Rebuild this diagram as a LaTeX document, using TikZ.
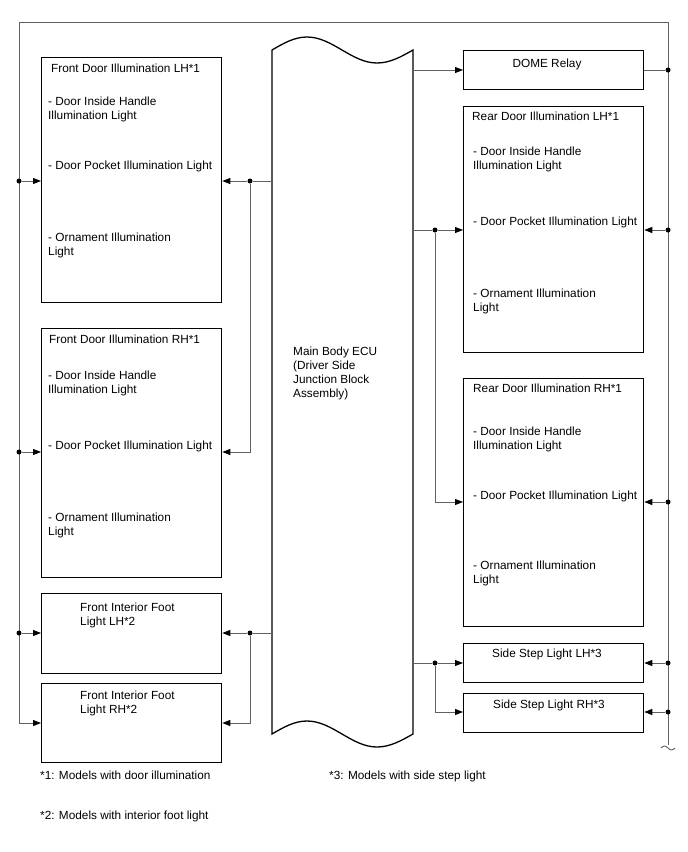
\documentclass[tikz,border=0pt]{standalone}
\usepackage{fontspec}
\setmainfont{Liberation Sans}
\usetikzlibrary{arrows.meta}
\begin{document}
\begin{tikzpicture}[x=1pt,y=-1pt,
  box/.style={draw=black, line width=1.3pt, inner sep=0, anchor=north west},
  conn/.style={draw=black!62, line width=0.9pt},
  arr/.style={conn, -{Triangle[length=8pt,width=6pt,color=black]}},
  dot/.style={circle, fill=black, inner sep=0, minimum size=5pt},
  txt/.style={anchor=base west, inner sep=0, align=left, font=\fontsize{11.8}{14}\selectfont},
  ctxt/.style={anchor=base, inner sep=0, font=\fontsize{11.8}{14}\selectfont}]
\path[use as bounding box, fill=white] (0,0) rectangle (688,852);

% boxes
\node[box, minimum width=180pt, minimum height=245pt] (fdlh) at (41,57) {};
\node[box, minimum width=180pt, minimum height=249pt] (fdrh) at (41,328) {};
\node[box, minimum width=180pt, minimum height=80pt] (fiflh) at (41,593) {};
\node[box, minimum width=180pt, minimum height=79pt] (fifrh) at (41,683) {};
\node[box, minimum width=180pt, minimum height=39pt] (dome) at (463,50) {};
\node[box, minimum width=180pt, minimum height=246pt] (rdlh) at (463,106) {};
\node[box, minimum width=180pt, minimum height=248pt] (rdrh) at (463,378) {};
\node[box, minimum width=180pt, minimum height=39pt] (sslh) at (463,643) {};
\node[box, minimum width=180pt, minimum height=39pt] (ssrh) at (463,693) {};

% ECU shape
\draw[line width=1.3pt] (272,50) sin (307,37) cos (342,50) sin (377,63) cos (413,50)
  -- (413,734) sin (377,747) cos (342,734) sin (307,721) cos (272,734) -- cycle;
\node[txt] (ecu) at (293,397.3) {Main Body ECU\\(Driver Side\\Junction Block\\Assembly)};

% texts (base = last line)
\node[txt] (t1) at (51,72.5) {Front Door Illumination LH*1};
\node[txt] (t2) at (48,119) {- Door Inside Handle\\Illumination Light};
\node[txt] (t3) at (48,169.5) {- Door Pocket Illumination Light};
\node[txt] (t4) at (48,255.5) {- Ornament Illumination\\Light};

\node[txt] (t5) at (49,343.5) {Front Door Illumination RH*1};
\node[txt] (t6) at (48,393.5) {- Door Inside Handle\\Illumination Light};
\node[txt] (t7) at (48,449.5) {- Door Pocket Illumination Light};
\node[txt] (t8) at (48,535.5) {- Ornament Illumination\\Light};

\node[txt] (t9) at (80,625.5) {Front Interior Foot\\Light LH*2};
\node[txt] (t10) at (80,713.5) {Front Interior Foot\\Light RH*2};

\node[ctxt] (t11) at (547,67.5) {DOME Relay};

\node[txt] (t12) at (472,120.5) {Rear Door Illumination LH*1};
\node[txt] (t13) at (473,169.5) {- Door Inside Handle\\Illumination Light};
\node[txt] (t14) at (473,225.5) {- Door Pocket Illumination Light};
\node[txt] (t15) at (473,311.5) {- Ornament Illumination\\Light};

\node[txt] (t16) at (473,392.5) {Rear Door Illumination RH*1};
\node[txt] (t17) at (473,449.5) {- Door Inside Handle\\Illumination Light};
\node[txt] (t18) at (473,499.5) {- Door Pocket Illumination Light};
\node[txt] (t19) at (473,583.5) {- Ornament Illumination\\Light};

\node[ctxt] (t20) at (547,657.5) {Side Step Light LH*3};
\node[ctxt] (t21) at (549,708.5) {Side Step Light RH*3};

\node[txt] (f1) at (40,779.5) {*1: Models with door illumination};
\node[txt] (f3) at (329,779.5) {*3: Models with side step light};
\node[txt] (f2) at (40,819.5) {*2: Models with interior foot light};

% outer bus
\coordinate (tl) at (19,22);
\coordinate (tr) at (668,22);
\coordinate (lb) at (19,723);
\coordinate (rb) at (668,745);
\draw[conn] (lb) -- (tl) -- (tr) -- (rb);
\draw[conn] (661,748) sin (664.5,746) cos (668,748) sin (671.5,750) cos (675,748);

% left bus
\node[dot] (l1) at (19,181) {};
\node[dot] (l2) at (19,452) {};
\node[dot] (l3) at (19,633) {};
\draw[arr] (l1) -- (fdlh.west |- l1);
\draw[arr] (l2) -- (fdrh.west |- l2);
\draw[arr] (l3) -- (fiflh.west |- l3);
\draw[arr] (lb) -- (fifrh.west |- lb);

% ECU left outputs
\coordinate (e1) at (272,181);
\node[dot] (m1) at (250,181) {};
\draw[conn] (e1) -- (m1);
\draw[arr] (m1) -- (fdlh.east |- m1);
\draw[arr] (m1) |- (fdrh.east |- 0,452);
\coordinate (e4) at (272,633);
\node[dot] (m2) at (250,633) {};
\draw[conn] (e4) -- (m2);
\draw[arr] (m2) -- (fiflh.east |- m2);
\draw[arr] (m2) |- (fifrh.east |- 0,723);

% ECU right outputs
\coordinate (e0) at (413,70);
\draw[arr] (e0) -- (dome.west |- e0);
\node[dot] (r0) at (668,70) {};
\draw[conn] (dome.east |- r0) -- (r0);

\coordinate (e2) at (413,230);
\node[dot] (n2) at (435,230) {};
\draw[conn] (e2) -- (n2);
\draw[arr] (n2) -- (rdlh.west |- n2);
\draw[arr] (n2) |- (rdrh.west |- 0,502);

\coordinate (e3) at (413,663);
\node[dot] (n3) at (435,663) {};
\draw[conn] (e3) -- (n3);
\draw[arr] (n3) -- (sslh.west |- n3);
\draw[arr] (n3) |- (ssrh.west |- 0,712);

% right bus inputs
\node[dot] (r2) at (668,230) {};
\node[dot] (r3) at (668,502) {};
\node[dot] (r4) at (668,663) {};
\node[dot] (r5) at (668,712) {};
\draw[arr] (r2) -- (rdlh.east |- r2);
\draw[arr] (r3) -- (rdrh.east |- r3);
\draw[arr] (r4) -- (sslh.east |- r4);
\draw[arr] (r5) -- (ssrh.east |- r5);
\end{tikzpicture}
\end{document}
